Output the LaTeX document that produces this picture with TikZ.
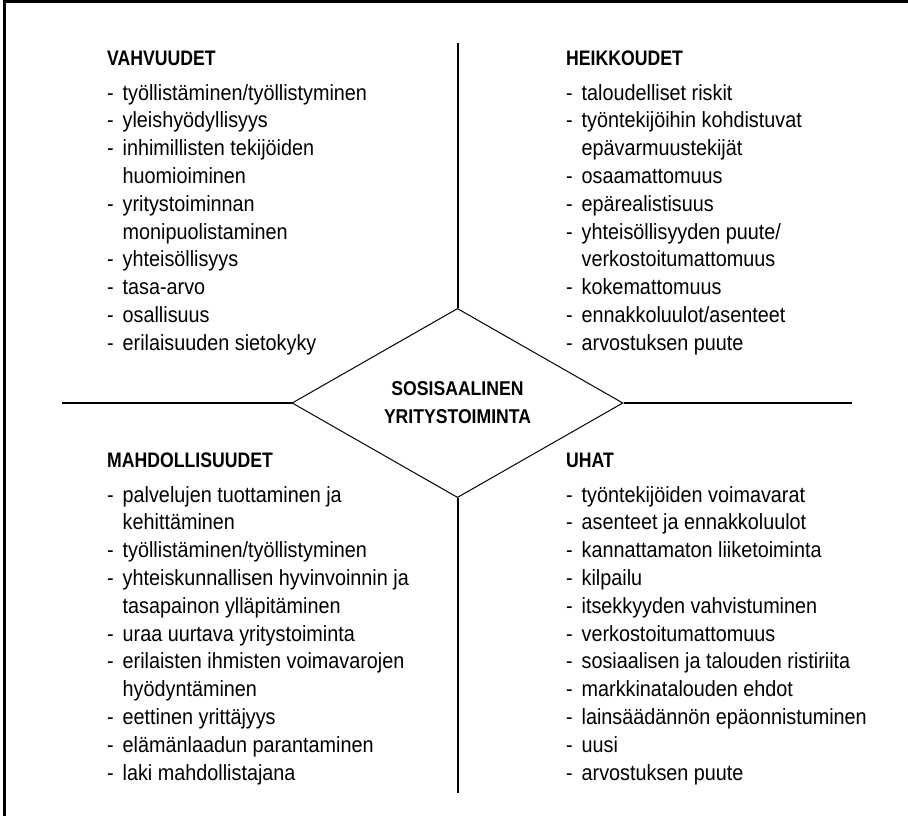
\documentclass[tikz,border=0pt]{standalone}
\usepackage{fontspec}
\setmainfont{Liberation Sans}[FakeStretch=0.9]
\newfontfamily\headfont{Liberation Sans}[FakeStretch=0.84]
\newfontfamily\corefont{Liberation Sans}[FakeStretch=0.88]
\usetikzlibrary{shapes.geometric}
\newcommand{\itm}[1]{\makebox[15.5pt][l]{-}#1}
\newcommand{\cont}[1]{\hspace*{15.5pt}#1}
\tikzset{
  quad/.style={anchor=base west, inner sep=0pt, font=\fontsize{22}{27.8}\selectfont},
  headbox/.style={anchor=base west, inner sep=0pt, font=\headfont\bfseries\fontsize{21}{24}\selectfont},
  frameline/.style={line width=3pt},
  axis/.style={line width=2pt},
  core/.style={draw, diamond, minimum width=331pt, minimum height=170pt, inner sep=0pt,
    line width=1pt, align=center, font=\corefont\bfseries\fontsize{20}{28}\selectfont}
}
\begin{document}
\begin{tikzpicture}[x=1pt,y=-1pt]
\useasboundingbox (0,0) rectangle (908,815);
% frame (top and left edges visible)
\coordinate (fbl) at (4,830);
\coordinate (ftl) at (4,1.7);
\coordinate (ftr) at (920,1.7);
\draw[frameline] (fbl) -- (ftl) -- (ftr);
% centre diamond
\node[core] (core) at (457.5,403) {SOSISAALINEN\\YRITYSTOIMINTA};
\coordinate (vtop) at (457.5,43);
\coordinate (vbot) at (457.5,793);
\coordinate (hleft) at (62,403);
\coordinate (hright) at (852,403);
\draw[axis] (core.north) -- (vtop);
\draw[axis] (core.south) -- (vbot);
\draw[axis] (core.west) -- (hleft);
\draw[axis] (core.east) -- (hright);
% headings
\node[headbox] (sh) at (107,65) {VAHVUUDET};
\node[headbox] (wh) at (566,65) {HEIKKOUDET};
\node[headbox] (oh) at (107,467) {MAHDOLLISUUDET};
\node[headbox] (th) at (566,467) {UHAT};
% lists
\node[quad] (s) at (107,100) {\begin{tabular}[t]{@{}l@{}}
\itm{työllistäminen/työllistyminen}\\
\itm{yleishyödyllisyys}\\
\itm{inhimillisten tekijöiden}\\
\cont{huomioiminen}\\
\itm{yritystoiminnan}\\
\cont{monipuolistaminen}\\
\itm{yhteisöllisyys}\\
\itm{tasa-arvo}\\
\itm{osallisuus}\\
\itm{erilaisuuden sietokyky}
\end{tabular}};
\node[quad] (w) at (566,100) {\begin{tabular}[t]{@{}l@{}}
\itm{taloudelliset riskit}\\
\itm{työntekijöihin kohdistuvat}\\
\cont{epävarmuustekijät}\\
\itm{osaamattomuus}\\
\itm{epärealistisuus}\\
\itm{yhteisöllisyyden puute/}\\
\cont{verkostoitumattomuus}\\
\itm{kokemattomuus}\\
\itm{ennakkoluulot/asenteet}\\
\itm{arvostuksen puute}
\end{tabular}};
\node[quad] (o) at (107,502) {\begin{tabular}[t]{@{}l@{}}
\itm{palvelujen tuottaminen ja}\\
\cont{kehittäminen}\\
\itm{työllistäminen/työllistyminen}\\
\itm{yhteiskunnallisen hyvinvoinnin ja}\\
\cont{tasapainon ylläpitäminen}\\
\itm{uraa uurtava yritystoiminta}\\
\itm{erilaisten ihmisten voimavarojen}\\
\cont{hyödyntäminen}\\
\itm{eettinen yrittäjyys}\\
\itm{elämänlaadun parantaminen}\\
\itm{laki mahdollistajana}
\end{tabular}};
\node[quad] (t) at (566,502) {\begin{tabular}[t]{@{}l@{}}
\itm{työntekijöiden voimavarat}\\
\itm{asenteet ja ennakkoluulot}\\
\itm{kannattamaton liiketoiminta}\\
\itm{kilpailu}\\
\itm{itsekkyyden vahvistuminen}\\
\itm{verkostoitumattomuus}\\
\itm{sosiaalisen ja talouden ristiriita}\\
\itm{markkinatalouden ehdot}\\
\itm{lainsäädännön epäonnistuminen}\\
\itm{uusi}\\
\itm{arvostuksen puute}
\end{tabular}};
\end{tikzpicture}
\end{document}
